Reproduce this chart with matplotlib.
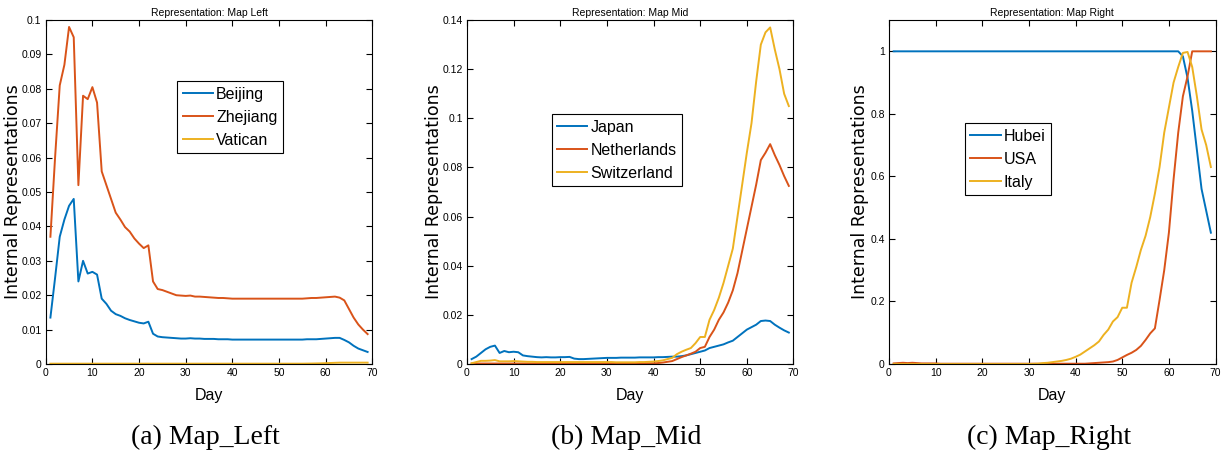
import matplotlib
matplotlib.use("Agg")
import matplotlib.pyplot as plt
import numpy as np

# days 1..69
days = np.arange(1, 70)

# ---- Map Left ----
beijing = [0.0135, 0.025, 0.037, 0.042, 0.046, 0.048, 0.024, 0.030, 0.0263, 0.0268,
           0.026, 0.019, 0.0175, 0.0155, 0.0145, 0.014, 0.0133, 0.0128, 0.0124, 0.012,
           0.0118, 0.0123, 0.0088, 0.008, 0.0078, 0.0077, 0.0076, 0.0075, 0.0074, 0.0074,
           0.0075, 0.0074, 0.0074, 0.0073, 0.0073, 0.0073, 0.0072, 0.0072, 0.0072, 0.0071,
           0.0071, 0.0071, 0.0071, 0.0071, 0.0071, 0.0071, 0.0071, 0.0071, 0.0071, 0.0071,
           0.0071, 0.0071, 0.0071, 0.0071, 0.0071, 0.0072, 0.0072, 0.0072, 0.0073, 0.0074,
           0.0075, 0.0076, 0.0076, 0.007, 0.0063, 0.0053, 0.0045, 0.004, 0.0035]
zhejiang = [0.037, 0.060, 0.081, 0.087, 0.098, 0.095, 0.052, 0.078, 0.077, 0.0805,
            0.076, 0.056, 0.052, 0.048, 0.044, 0.042, 0.0398, 0.0385, 0.0365, 0.035,
            0.0337, 0.0345, 0.024, 0.0218, 0.0215, 0.021, 0.0205, 0.020, 0.0199, 0.0198,
            0.0199, 0.0196, 0.0196, 0.0195, 0.0194, 0.0193, 0.0192, 0.0192, 0.0191, 0.019,
            0.019, 0.019, 0.019, 0.019, 0.019, 0.019, 0.019, 0.019, 0.019, 0.019,
            0.019, 0.019, 0.019, 0.019, 0.019, 0.0191, 0.0192, 0.0192, 0.0193, 0.0194,
            0.0195, 0.0196, 0.0193, 0.0185, 0.016, 0.0135, 0.0115, 0.010, 0.0087]
vatican = [0.0001] * 55 + [0.00012, 0.00014, 0.00017, 0.0002, 0.00025, 0.0003, 0.00035,
                           0.0004, 0.0004, 0.0004, 0.0004, 0.0004, 0.0004, 0.0004]

# ---- Map Mid ----
japan = [0.002, 0.003, 0.0045, 0.006, 0.007, 0.0075, 0.0045, 0.0053, 0.0048, 0.005,
         0.0048, 0.0035, 0.0032, 0.003, 0.0028, 0.0027, 0.0028, 0.0027, 0.0027, 0.0028,
         0.0028, 0.0029, 0.0022, 0.002, 0.002, 0.0021, 0.0022, 0.0023, 0.0024, 0.0025,
         0.0025, 0.0025, 0.0026, 0.0026, 0.0026, 0.0026, 0.0027, 0.0027, 0.0027, 0.0027,
         0.0028, 0.0028, 0.0029, 0.003, 0.003, 0.0032, 0.0035, 0.004, 0.0045, 0.005,
         0.0055, 0.0065, 0.007, 0.0075, 0.008, 0.0088, 0.0095, 0.011, 0.0125, 0.014,
         0.015, 0.016, 0.0175, 0.0177, 0.0175, 0.016, 0.0148, 0.0137, 0.0128]
netherlands = [0.0002] * 30 + [0.0003] * 10 + [
    0.0004, 0.0006, 0.0009, 0.0012, 0.002, 0.0028, 0.0035, 0.0042, 0.005, 0.0065,
    0.007, 0.011, 0.014, 0.018, 0.021, 0.025, 0.030, 0.037, 0.046, 0.055,
    0.064, 0.073, 0.083, 0.086, 0.0895, 0.085, 0.081, 0.0765, 0.0725]
switzerland = [0.0003, 0.0008, 0.0013, 0.0013, 0.0014, 0.0016, 0.0011, 0.0011, 0.0011, 0.0012,
               0.0011, 0.001, 0.0009, 0.0009, 0.0008, 0.0008, 0.0008, 0.0008, 0.0008, 0.0008,
               0.0008, 0.0008, 0.0008, 0.0008, 0.0008, 0.0008, 0.0008, 0.0008, 0.0008, 0.0008,
               0.0008, 0.0007, 0.0007, 0.0007, 0.0007, 0.0007, 0.0008, 0.0008, 0.0009, 0.001,
               0.0012, 0.0015, 0.002, 0.0025, 0.004, 0.005, 0.0058, 0.0065, 0.0085, 0.011,
               0.011, 0.018, 0.022, 0.027, 0.033, 0.040, 0.047, 0.060, 0.073, 0.086,
               0.098, 0.115, 0.130, 0.135, 0.137, 0.128, 0.120, 0.110, 0.105]

# ---- Map Right ----
hubei = [1.0] * 62 + [0.984, 0.915, 0.81, 0.685, 0.56, 0.49, 0.42]
usa = [0.002, 0.003, 0.004, 0.003, 0.004, 0.003, 0.002, 0.002, 0.002, 0.002] + [0.001] * 30 + [
    0.001, 0.001, 0.002, 0.003, 0.004, 0.005, 0.006, 0.008, 0.013, 0.021,
    0.029, 0.036, 0.045, 0.058, 0.077, 0.098, 0.114, 0.205, 0.30, 0.42,
    0.59, 0.74, 0.856, 0.92, 1.0, 1.0, 1.0, 1.0, 1.0]
italy = [0.0] * 30 + [
    0.0005, 0.001, 0.003, 0.004, 0.006, 0.008, 0.01, 0.013, 0.017, 0.023,
    0.03, 0.04, 0.05, 0.06, 0.072, 0.093, 0.11, 0.136, 0.15, 0.18,
    0.18, 0.26, 0.31, 0.365, 0.41, 0.47, 0.545, 0.63, 0.74, 0.82,
    0.90, 0.95, 0.995, 0.998, 0.95, 0.856, 0.75, 0.70, 0.63]

colors = ["#0072BD", "#D95319", "#EDB120"]
sans = "Liberation Sans"

panels = [
    ("Representation: Map Left", ["Beijing", "Zhejiang", "Vatican"],
     [beijing, zhejiang, vatican], (0, 0.1), np.arange(0, 0.101, 0.01),
     ["0", "0.01", "0.02", "0.03", "0.04", "0.05", "0.06", "0.07", "0.08", "0.09", "0.1"],
     (0.402, 0.823), "(a) Map_Left", 0.0374, -0.073),
    ("Representation: Map Mid", ["Japan", "Netherlands", "Switzerland"],
     [japan, netherlands, switzerland], (0, 0.14), np.arange(0, 0.141, 0.02),
     ["0", "0.02", "0.04", "0.06", "0.08", "0.1", "0.12", "0.14"],
     (0.259, 0.727), "(b) Map_Mid", 0.3818, -0.073),
    ("Representation: Map Right", ["Hubei", "USA", "Italy"],
     [hubei, usa, italy], (0, 1.1), np.arange(0, 1.01, 0.2),
     ["0", "0.2", "0.4", "0.6", "0.8", "1"],
     (0.232, 0.70), "(c) Map_Right", 0.7269, -0.061),
]

fig = plt.figure(figsize=(12.23, 4.58), dpi=100)

for title, names, series, ylim, yticks, ylabels, leg_pos, caption, left, ylab_x in panels:
    ax = fig.add_axes([left, 0.2052, 0.267, 0.751])
    for name, vals, c in zip(names, series, colors):
        ax.plot(days, vals, color=c, lw=1.4, label=name)
    ax.set_xlim(0, 70)
    ax.set_ylim(*ylim)
    ax.set_xticks(range(0, 71, 10))
    ax.set_xticklabels([str(v) for v in range(0, 71, 10)], family=sans, fontsize=7.5)
    ax.set_yticks(yticks)
    ax.set_yticklabels(ylabels, family=sans, fontsize=7.5)
    ax.tick_params(direction="in", top=True, right=True, length=4, width=0.8, pad=3)
    for s in ax.spines.values():
        s.set_linewidth(0.8)
    ax.set_title(title, family=sans, fontsize=7.5, pad=3)
    ax.set_xlabel("Day", family=sans, fontsize=11.5, labelpad=7)
    ax.set_ylabel("Internal Representations", family="DejaVu Sans", fontsize=12.5)
    ax.yaxis.set_label_coords(ylab_x, 0.5)
    leg = ax.legend(loc="upper left", bbox_to_anchor=leg_pos, prop={"family": sans, "size": 11.5},
                    frameon=True, fancybox=False, edgecolor="black", framealpha=1,
                    handlelength=1.9, handletextpad=0.2, borderpad=0.35, labelspacing=0.5,
                    borderaxespad=0)
    leg.get_frame().set_linewidth(0.8)
    fig.text(left + 0.267 / 2 - 0.003, 0.045, caption, ha="center", va="center",
             family="Liberation Serif", fontsize=20)

fig.savefig("out.png", dpi=100)
